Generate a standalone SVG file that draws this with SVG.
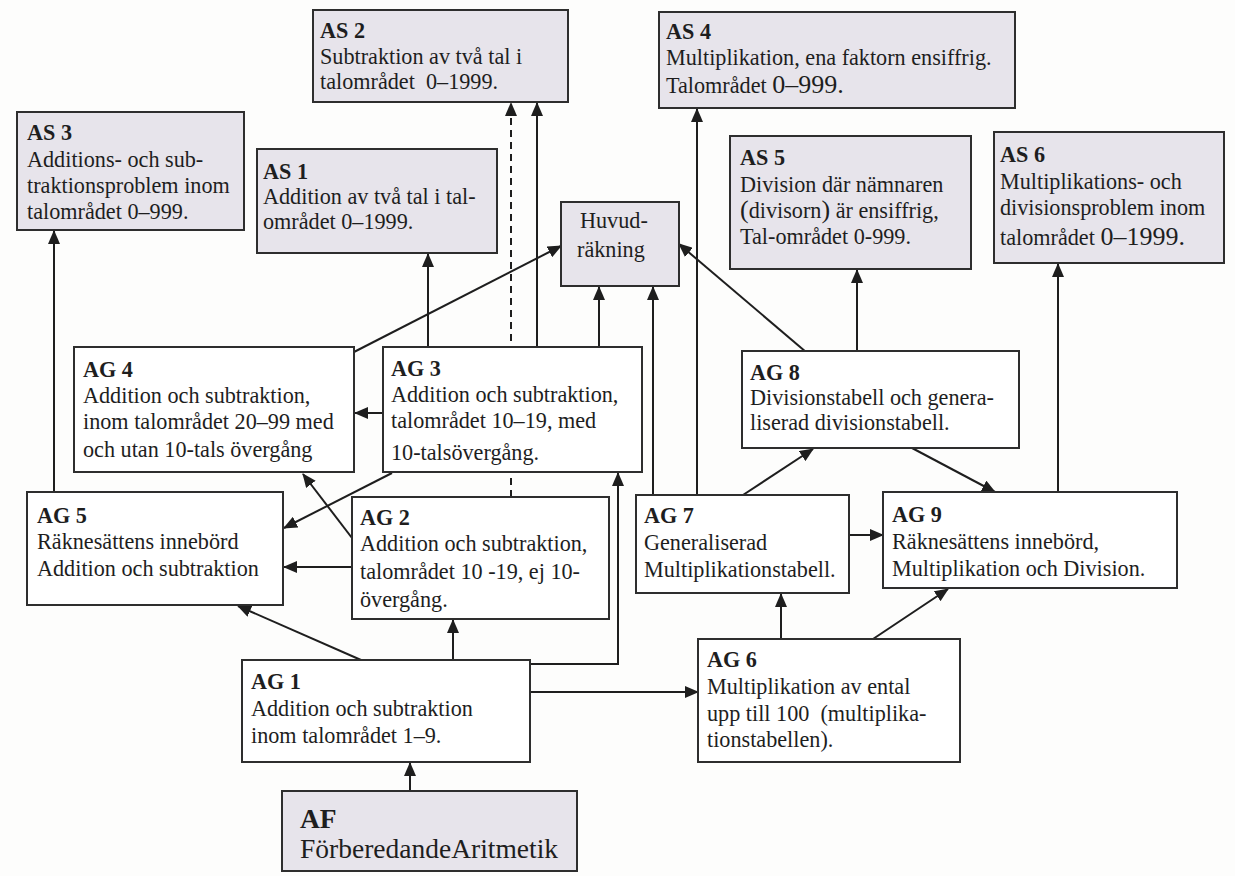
<svg xmlns="http://www.w3.org/2000/svg" width="1235" height="876" viewBox="0 0 1235 876">
<style>
  .bg { fill: #fdfdfc; }
  .as { fill: #e7e4eb; stroke: #2e2e2e; stroke-width: 2; }
  .ag { fill: #ffffff; stroke: #2e2e2e; stroke-width: 2; }
  .t { font-family: "Liberation Serif", "Times New Roman", serif; font-size: 22.2px; fill: #1e1e1e; }
  .b { font-weight: bold; }
  .big { font-size: 26px; }
  .af { font-size: 27.5px; }
  .c { fill: none; stroke: #1e1e1e; stroke-width: 2; marker-end: url(#arr); }
  .dash { stroke-dasharray: 7 5; }
</style>
<defs>
  <marker id="arr" markerUnits="userSpaceOnUse" markerWidth="14" markerHeight="12" refX="13" refY="6" orient="auto">
    <path d="M0,0 L14,6 L0,12 z" fill="#1e1e1e"/>
  </marker>
</defs>
<rect class="bg" x="0" y="0" width="1235" height="876"/>

<g id="connectors">
  <path class="c" d="M54,492 V231"/>
  <path class="c" d="M428,347 V254"/>
  <path class="c" d="M354,352 L561,246"/>
  <path class="c dash" d="M511,497 V103"/>
  <path class="c" d="M537,347 V103"/>
  <path class="c" d="M599,347 V287"/>
  <path class="c" d="M653,495 V287"/>
  <path class="c" d="M697,495 V109"/>
  <path class="c" d="M806,352 L679,244"/>
  <path class="c" d="M857,351 V270"/>
  <path class="c" d="M1058,492 V264"/>
  <path class="c" d="M743,495 L813,449"/>
  <path class="c" d="M912,448 L995,492"/>
  <path class="c" d="M849,535 H883"/>
  <path class="c" d="M781,639 V594"/>
  <path class="c" d="M873,639 L948,589"/>
  <path class="c" d="M530,692 H698"/>
  <path class="c" d="M410,791 V763"/>
  <path class="c" d="M453,660 V620"/>
  <path class="c" d="M361,660 L238,606"/>
  <path class="c" d="M530,664 H618 V473"/>
  <path class="c" d="M383,413 H355"/>
  <path class="c" d="M392,473 L284,528"/>
  <path class="c" d="M352,538 L303,474"/>
  <path class="c" d="M352,567 H284"/>
</g>

<g id="AS2">
  <rect class="as" x="313" y="10" width="255" height="92"/>
  <text class="t b" x="320" y="38">AS 2</text>
  <text class="t" x="320" y="64">Subtraktion av två tal i</text>
  <text class="t" x="320" y="89" xml:space="preserve">talområdet  0–1999.</text>
</g>
<g id="AS4">
  <rect class="as" x="659" y="12" width="356" height="96"/>
  <text class="t b" x="666" y="39">AS 4</text>
  <text class="t" x="666" y="65">Multiplikation, ena faktorn ensiffrig.</text>
  <text class="t" x="666" y="93">Talområdet <tspan class="big">0–999.</tspan></text>
</g>
<g id="AS3">
  <rect class="as" x="17" y="112" width="227" height="118"/>
  <text class="t b" x="27" y="140">AS 3</text>
  <text class="t" x="27" y="167">Additions- och sub-</text>
  <text class="t" x="27" y="193">traktionsproblem inom</text>
  <text class="t" x="27" y="219">talområdet 0–999.</text>
</g>
<g id="AS1">
  <rect class="as" x="257" y="149" width="240" height="104"/>
  <text class="t b" x="263" y="179">AS 1</text>
  <text class="t" x="263" y="204">Addition av två tal i tal-</text>
  <text class="t" x="263" y="229">området 0–1999.</text>
</g>
<g id="Huvudrakning">
  <rect class="as" x="561" y="202" width="118" height="84"/>
  <text class="t" x="580" y="228">Huvud-</text>
  <text class="t" x="577" y="257">räkning</text>
</g>
<g id="AS5">
  <rect class="as" x="730" y="136" width="241" height="133"/>
  <text class="t b" x="740" y="165">AS 5</text>
  <text class="t" x="740" y="192">Division där nämnaren</text>
  <text class="t" x="740" y="218"><tspan font-size="26">(</tspan>divisorn<tspan font-size="26">)</tspan> är ensiffrig,</text>
  <text class="t" x="740" y="244">Tal-området 0-999.</text>
</g>
<g id="AS6">
  <rect class="as" x="994" y="132" width="230" height="131"/>
  <text class="t b" x="1000" y="162">AS 6</text>
  <text class="t" x="1000" y="189">Multiplikations- och</text>
  <text class="t" x="1000" y="215">divisionsproblem inom</text>
  <text class="t" x="1000" y="245">talområdet <tspan class="big">0–1999.</tspan></text>
</g>
<g id="AG4">
  <rect class="ag" x="74" y="347" width="280" height="125"/>
  <text class="t b" x="83" y="377">AG 4</text>
  <text class="t" x="83" y="403">Addition och subtraktion,</text>
  <text class="t" x="83" y="429">inom talområdet 20–99 med</text>
  <text class="t" x="83" y="457">och utan 10-tals övergång</text>
</g>
<g id="AG3">
  <rect class="ag" x="383" y="347" width="259" height="125"/>
  <text class="t b" x="391" y="376">AG 3</text>
  <text class="t" x="391" y="402">Addition och subtraktion,</text>
  <text class="t" x="391" y="428">talområdet 10–19, med</text>
  <text class="t" x="391" y="460">10-talsövergång.</text>
</g>
<g id="AG8">
  <rect class="ag" x="742" y="351" width="277" height="97"/>
  <text class="t b" x="750" y="380">AG 8</text>
  <text class="t" x="750" y="405">Divisionstabell och genera-</text>
  <text class="t" x="750" y="430">liserad divisionstabell.</text>
</g>
<g id="AG5">
  <rect class="ag" x="27" y="492" width="256" height="113"/>
  <text class="t b" x="37" y="523">AG 5</text>
  <text class="t" x="37" y="549">Räknesättens innebörd</text>
  <text class="t" x="37" y="576">Addition och subtraktion</text>
</g>
<g id="AG2">
  <rect class="ag" x="352" y="497" width="257" height="122"/>
  <text class="t b" x="360" y="525">AG 2</text>
  <text class="t" x="360" y="551">Addition och subtraktion,</text>
  <text class="t" x="360" y="579">talområdet 10 -19, ej 10-</text>
  <text class="t" x="360" y="607">övergång.</text>
</g>
<g id="AG7">
  <rect class="ag" x="636" y="495" width="213" height="98"/>
  <text class="t b" x="644" y="523">AG 7</text>
  <text class="t" x="644" y="550">Generaliserad</text>
  <text class="t" x="644" y="577">Multiplikationstabell.</text>
</g>
<g id="AG9">
  <rect class="ag" x="883" y="492" width="294" height="96"/>
  <text class="t b" x="892" y="522">AG 9</text>
  <text class="t" x="892" y="549">Räknesättens innebörd,</text>
  <text class="t" x="892" y="576">Multiplikation och Division.</text>
</g>
<g id="AG1">
  <rect class="ag" x="242" y="660" width="288" height="102"/>
  <text class="t b" x="251" y="689">AG 1</text>
  <text class="t" x="251" y="716">Addition och subtraktion</text>
  <text class="t" x="251" y="743">inom talområdet 1–9.</text>
</g>
<g id="AG6">
  <rect class="ag" x="698" y="639" width="262" height="123"/>
  <text class="t b" x="707" y="667">AG 6</text>
  <text class="t" x="707" y="694">Multiplikation av ental</text>
  <text class="t" x="707" y="721" xml:space="preserve">upp till 100  (multiplika-</text>
  <text class="t" x="707" y="747">tionstabellen).</text>
</g>
<g id="AF">
  <rect class="as" x="282" y="791" width="295" height="80"/>
  <text class="t b af" x="300" y="828">AF</text>
  <text class="t af" x="300" y="858">FörberedandeAritmetik</text>
</g>
</svg>
